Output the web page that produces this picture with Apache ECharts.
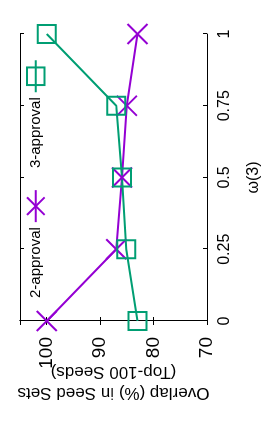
<!DOCTYPE html>
<html>
<head>
<meta charset="utf-8">
<script src="https://cdn.jsdelivr.net/npm/echarts@6/dist/echarts.min.js"></script>
<style>
html,body{margin:0;padding:0;background:#fff;overflow:hidden;width:269px;height:423px;}
#chart{position:absolute;width:423px;height:269px;left:-77px;top:77px;transform:rotate(-90deg);transform-origin:50% 50%;}
</style>
</head>
<body>
<div id="chart"></div>
<script>
// Data
const omega = [0, 0.25, 0.5, 0.75, 1];
const approval2 = [100, 87.0, 85.9, 85.0, 83.0];
const approval3 = [83.0, 85.1, 85.9, 87.0, 100];
const seriesNames = ['2-approval', '3-approval'];
const xTicks = [0, 0.25, 0.5, 0.75, 1];
const yTicks = [70, 80, 90, 100];

const purple = '#9400d3';
const green = '#009e73';
const font = '"Liberation Sans", Arial, Helvetica, sans-serif';

const chart = echarts.init(document.getElementById('chart'), null, {renderer: 'canvas'});

function pairs(xs, ys) { return xs.map((x, i) => [x, ys[i]]); }

const xBase = {
  type: 'value', min: 0, max: 1, interval: 0.25,
  axisLine: {show: true, lineStyle: {color: '#000', width: 1}},
  axisTick: {show: true, inside: true, length: 4, lineStyle: {color: '#000'}},
  splitLine: {show: false}
};
const yBase = {
  type: 'value', min: 70, max: 105, interval: 10,
  axisLine: {show: true, lineStyle: {color: '#000', width: 1}},
  axisTick: {show: true, inside: true, length: 4, lineStyle: {color: '#000'}},
  splitLine: {show: false}
};

chart.setOption({
  animation: false,
  backgroundColor: '#fff',
  grid: {left: 102, right: 34, top: 20, bottom: 62, containLabel: false},
  legend: {
    data: seriesNames,
    left: 125, top: 26,
    padding: 0,
    align: 'right',
    orient: 'horizontal',
    itemWidth: 32, itemHeight: 22, itemGap: 21,
    textStyle: {fontFamily: font, fontSize: 15, color: '#000'},
    selectedMode: false
  },
  xAxis: [
    Object.assign({}, xBase, {
      position: 'bottom',
      name: 'ω(3)', nameLocation: 'middle', nameGap: 39, nameMoveOverlap: false,
      nameTextStyle: {fontFamily: font, fontSize: 16, color: '#000'},
      axisLabel: {show: true, margin: 10, fontFamily: font, fontSize: 16, color: '#000',
        formatter: v => xTicks.includes(v) ? String(v) : ''}
    }),
    Object.assign({}, xBase, {position: 'top', axisLabel: {show: false}})
  ],
  yAxis: [
    Object.assign({}, yBase, {
      position: 'left',
      name: 'Overlap (%) in Seed Sets\n(Top-100 Seeds)', nameLocation: 'middle', nameGap: 40, nameRotate: 90,
      nameMoveOverlap: false,
      nameTextStyle: {fontFamily: font, fontSize: 17, lineHeight: 21, color: '#000'},
      axisLabel: {show: true, margin: 16, fontFamily: font, fontSize: 19, color: '#000', showMaxLabel: false,
        formatter: v => yTicks.includes(v) ? String(v) : ''}
    }),
    Object.assign({}, yBase, {position: 'right', axisLabel: {show: false}})
  ],
  series: [
    {
      name: seriesNames[0], type: 'line', xAxisIndex: 0, yAxisIndex: 0,
      data: pairs(omega, approval2),
      symbol: 'path://M0,0L10,10M10,0L0,10', symbolSize: 20,
      itemStyle: {color: purple, borderColor: purple, borderWidth: 2},
      lineStyle: {color: purple, width: 2}
    },
    {
      name: seriesNames[1], type: 'line', xAxisIndex: 0, yAxisIndex: 0,
      data: pairs(omega, approval3),
      symbol: 'path://M0,0L10,0L10,10L0,10Z', symbolSize: 18,
      itemStyle: {color: 'rgba(0,0,0,0)', borderColor: green, borderWidth: 2},
      lineStyle: {color: green, width: 2}
    }
  ]
});
</script>
</body>
</html>
